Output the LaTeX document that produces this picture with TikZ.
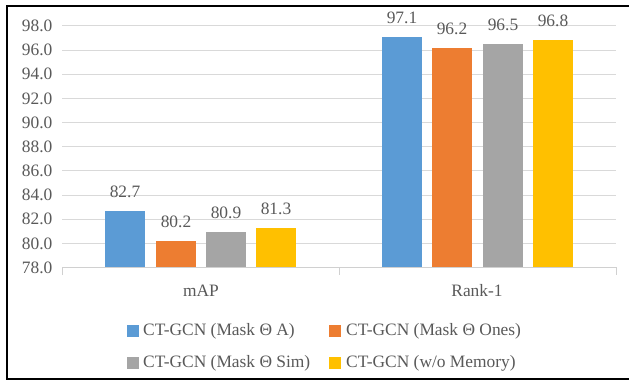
\documentclass[tikz,border=0pt]{standalone}
\usepackage{fontspec}
\setmainfont{Liberation Serif}
\definecolor{txt}{HTML}{595959}
\definecolor{grid}{HTML}{D9D9D9}
\definecolor{axisc}{HTML}{D0D0D0}
\definecolor{cblue}{HTML}{5B9BD5}
\definecolor{corange}{HTML}{ED7D31}
\definecolor{cgray}{HTML}{A5A5A5}
\definecolor{cyellow}{HTML}{FFC000}
\tikzset{
  lbl/.style={text=txt, inner sep=0pt, font=\fontsize{17.4bp}{20bp}\selectfont},
  gridline/.style={draw=grid, line width=1bp},
  axisline/.style={draw=axisc, line width=1bp},
  swatch/.style={draw=none, minimum size=12bp, inner sep=0pt},
}
% vertical position (in px, downward) of a value on the axis
\newcommand{\vy}[1]{267.5-(#1-78)*12.08}
\begin{document}
\begin{tikzpicture}[x=1bp, y=-1bp]
\useasboundingbox (0,0) rectangle (629,384);
% frame of the chart area
\draw[black, line width=1.6bp] (7,6) rectangle (640,379);

% horizontal gridlines and value axis labels
\foreach \v in {80,82,...,98} {
  \draw[gridline] (62,{\vy{\v}}) -- (616,{\vy{\v}});
}
\foreach \v in {78,80,...,98} {
  \node[lbl, anchor=east] (yl\v) at (52.5,{\vy{\v}}) {\v.0};
}

% category axis with tick marks
\draw[axisline] (62.5,275) -- (62.5,267.5) -- (616,267.5) -- (616,275);
\draw[axisline] (339,267.5) -- (339,275);
\node[lbl, anchor=base] (catmap) at (201,296) {mAP};
\node[lbl, anchor=base] (catrank) at (477,296) {Rank-1};

% bars: x-left, value, colour, name
\foreach \x/\v/\c/\n in {105/82.7/cblue/ma, 156/80.2/corange/mb, 206/80.9/cgray/mc, 256/81.3/cyellow/md,
                         382/97.1/cblue/ra, 432/96.2/corange/rb, 483/96.5/cgray/rc, 533/96.8/cyellow/rd} {
  \fill[\c] (\x,{\vy{\v}}) rectangle ({\x+40},267);
  \node[lbl, anchor=base] (val\n) at ({\x+20},{\vy{\v}-13.5}) {\v};
}

% legend
\node[swatch, fill=cblue]   (sw1) at (133,331) {};
\node[lbl, anchor=west] (lg1) at (143,331) {CT-GCN (Mask Θ A)};
\node[swatch, fill=corange] (sw2) at (335,331) {};
\node[lbl, anchor=west] (lg2) at (346,331) {CT-GCN (Mask Θ Ones)};
\node[swatch, fill=cgray]   (sw3) at (133,363) {};
\node[lbl, anchor=west] (lg3) at (143,363) {CT-GCN (Mask Θ Sim)};
\node[swatch, fill=cyellow] (sw4) at (335,363) {};
\node[lbl, anchor=west] (lg4) at (346,363) {CT-GCN (w/o Memory)};
\end{tikzpicture}
\end{document}
